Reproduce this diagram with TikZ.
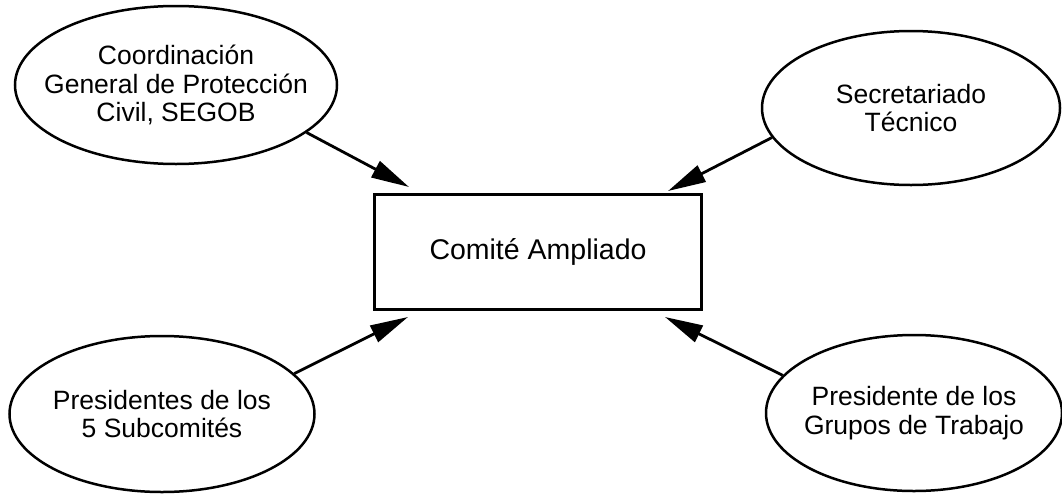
\documentclass[tikz,border=0pt]{standalone}
\usepackage{fontspec}
\setmainfont{Liberation Sans}
\usetikzlibrary{shapes.geometric,arrows.meta}

\tikzset{
  org/.style={ellipse,draw,line width=2.5pt,inner sep=0pt},
  comite/.style={rectangle,draw,line width=2.5pt,minimum width=327pt,minimum height=115pt,
    font=\fontsize{28.5}{32}\selectfont},
  flecha/.style={line width=2.8pt,-{Triangle[length=38pt,width=18pt]}}
}

\begin{document}
\begin{tikzpicture}[x=1pt,y=-1pt,font=\fontsize{26.5}{28.5}\selectfont]
  \useasboundingbox (0,0) rectangle (1062,493);

  \node[comite] (comite) at (538,252) {Comité Ampliado};

  \node[org,minimum width=322pt,minimum height=158pt,
        label={[align=center]center:Coordinación\\General de Protección\\Civil, SEGOB}] (cgpc) at (176,85) {};
  \node[org,minimum width=298pt,minimum height=154pt,
        label={[align=center]center:Secretariado\\Técnico}] (sec) at (911,108) {};
  \node[org,minimum width=305pt,minimum height=156pt,
        label={[align=center]center:Presidentes de los\\5 Subcomités}] (pres) at (162,414) {};
  \node[org,minimum width=296pt,minimum height=156pt,
        label={[align=center]center:Presidente de los\\Grupos de Trabajo}] (grup) at (914,413) {};

  % puntas junto a las esquinas del comite
  \coordinate (pA) at (409,187);
  \coordinate (pB) at (668,191);
  \coordinate (pC) at (408,317);
  \coordinate (pD) at (665,317);

  \draw[flecha] (cgpc.-20) -- (pA);
  \draw[flecha] (sec.192) -- (pB);
  \draw[flecha] (pres.17) -- (pC);
  \draw[flecha] (grup.164) -- (pD);
\end{tikzpicture}
\end{document}
